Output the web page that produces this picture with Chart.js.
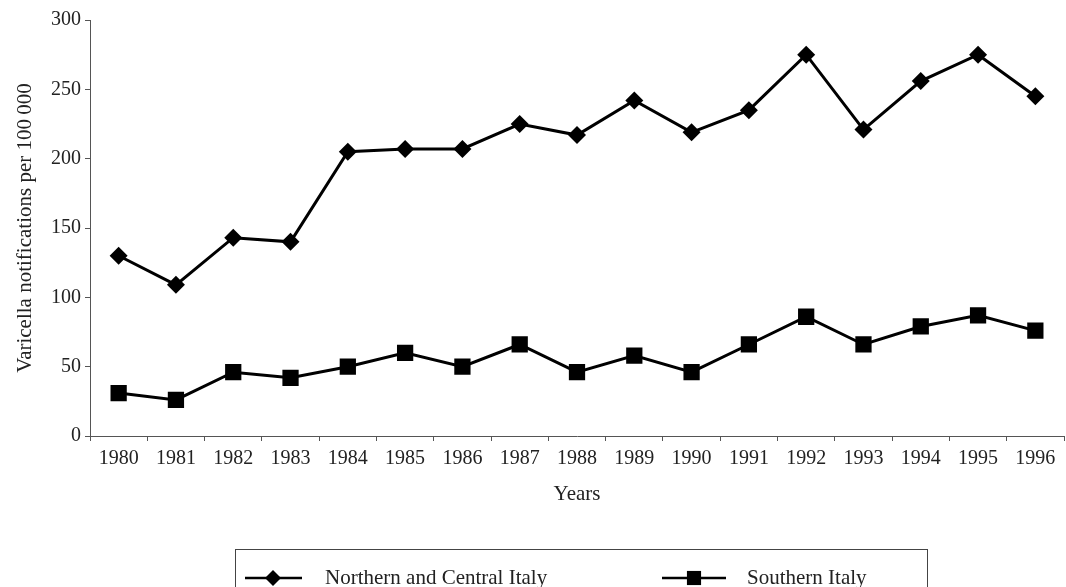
<!DOCTYPE html>
<html>
<head>
<meta charset="utf-8">
<script src="https://cdn.jsdelivr.net/npm/chart.js@4/dist/chart.umd.min.js"></script>
<style>
  html, body { margin: 0; padding: 0; background: #fff; }
  #wrap { width: 1066px; height: 587px; }
</style>
</head>
<body>
<div id="wrap"><canvas id="myChart" width="1066" height="587"></canvas></div>
<script>
const years = ['1980', '1981', '1982', '1983', '1984', '1985', '1986', '1987', '1988',
    '1989', '1990', '1991', '1992', '1993', '1994', '1995', '1996'];

const northCentral = [130, 109, 143, 140, 205, 207, 207, 225, 217, 242, 219, 235, 275, 221, 256, 275, 245];
const southern = [31, 26, 46, 42, 50, 60, 50, 66, 46, 58, 46, 66, 86, 66, 79, 87, 76];

const seriesNames = ['Northern and Central Italy', 'Southern Italy'];

const serif = "'Liberation Serif', 'Times New Roman', serif";
const textColor = '#222';

// legend box under the plot, drawn by hand
const boxLegend = {
    id: 'boxLegend',
    afterDraw(chart) {
        const c = chart.ctx;
        c.save();
        c.strokeStyle = '#444';
        c.lineWidth = 1;
        c.strokeRect(235.5, 549.5, 692, 60);

        const items = [
            { ds: chart.data.datasets[0], cx: 273, tx: 325, x0: 245, x1: 302, r: 8 },
            { ds: chart.data.datasets[1], cx: 694, tx: 747, x0: 662, x1: 726, r: 10 }
        ];
        const y = 578;
        items.forEach(it => {
            c.strokeStyle = '#000';
            c.lineWidth = 2.5;
            c.beginPath();
            c.moveTo(it.x0, y);
            c.lineTo(it.x1, y);
            c.stroke();
            c.fillStyle = '#000';
            Chart.helpers.drawPoint(c, { pointStyle: it.ds.pointStyle, radius: it.r, borderWidth: 0 }, it.cx, y);
            c.fillStyle = textColor;
            c.font = '21px ' + serif;
            c.textBaseline = 'middle';
            c.textAlign = 'left';
            c.fillText(it.ds.label, it.tx, y);
        });
        c.restore();
    }
};

const ctx = document.getElementById('myChart').getContext('2d');

const myChart = new Chart(ctx, {
    type: 'line',
    data: {
        labels: years,
        datasets: [{
            label: seriesNames[0],
            data: northCentral,
            borderColor: '#000',
            backgroundColor: '#000',
            borderWidth: 3,
            pointStyle: 'rectRot',
            pointRadius: 9,
            pointBorderWidth: 0,
            tension: 0
        }, {
            label: seriesNames[1],
            data: southern,
            borderColor: '#000',
            backgroundColor: '#000',
            borderWidth: 3,
            pointStyle: 'rect',
            pointRadius: 11.5,
            pointBorderWidth: 0,
            tension: 0
        }]
    },
    options: {
        responsive: false,
        animation: false,
        layout: { autoPadding: false, padding: { top: 20, right: 2, bottom: 71, left: 0 } },
        plugins: {
            legend: { display: false },
            tooltip: { enabled: false }
        },
        scales: {
            x: {
                offset: true,
                grid: { offset: true, drawOnChartArea: false, tickLength: 5, color: '#555' },
                border: { color: '#555', width: 1 },
                ticks: { color: textColor, font: { family: serif, size: 20 }, maxRotation: 0, padding: 6 },
                title: {
                    display: true, text: 'Years', color: textColor,
                    font: { family: serif, size: 21 }, padding: { top: 0, bottom: 9 }
                },
                afterFit(s) {
                    s.height = 80;
                    s.paddingLeft = 0;
                    s.paddingRight = 0;
                }
            },
            y: {
                min: 0,
                max: 300,
                grid: { drawOnChartArea: false, tickLength: 5, color: '#555' },
                border: { color: '#555', width: 1 },
                ticks: { stepSize: 50, color: textColor, font: { family: serif, size: 20 }, padding: 4 },
                title: {
                    display: true, text: 'Varicella notifications per 100\u2009000', color: textColor,
                    font: { family: serif, size: 21 }, padding: { top: 13, bottom: 0 }
                },
                afterFit(s) {
                    s.width = 90;
                    s.paddingTop = 0;
                    s.paddingBottom = 0;
                }
            }
        }
    },
    plugins: [boxLegend]
});
</script>
</body>
</html>
